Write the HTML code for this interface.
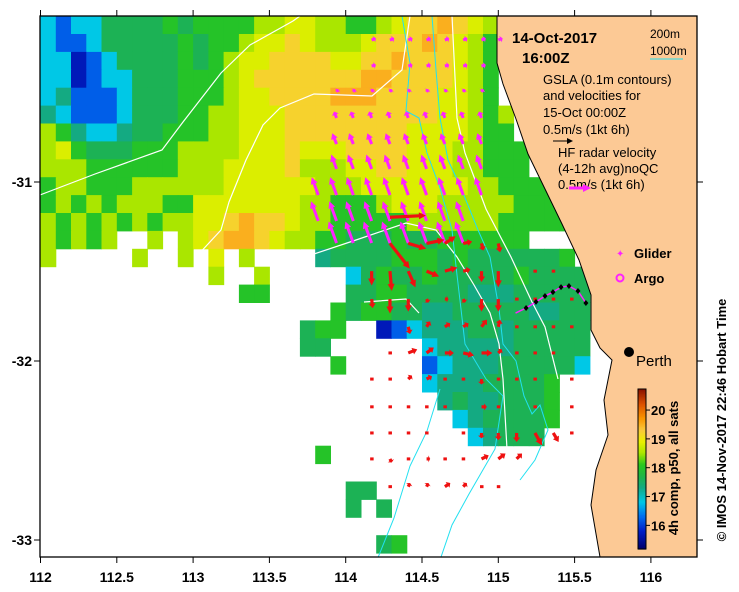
<!DOCTYPE html>
<html><head><meta charset="utf-8"><style>
html,body{margin:0;padding:0;background:#fff;}
svg{display:block;font-family:"Liberation Sans",sans-serif;}
</style></head><body>
<svg id="chart" width="739" height="592" viewBox="0 0 739 592">
<defs><clipPath id="plotclip"><rect x="40" y="16" width="657" height="541"/></clipPath></defs>
<g id="cells" clip-path="url(#plotclip)"></g>
<g id="contours" clip-path="url(#plotclip)"></g>
<g id="land" clip-path="url(#plotclip)"></g>
<g id="arrows" clip-path="url(#plotclip)"></g>
<g id="overlay"></g>
<g id="axes"></g>
</svg>
<script>
const sstCodes = "abcdefghij";
const sstVals = [15.7,16.2,16.8,17.3,17.6,18.0,18.5,18.8,19.2,19.5];
const sstRows = [
"cbcceeeefeffffgghhggffghiijihgg",
"cbbceeeeefeffghhihggghiiijihgf",
"ccabceeeefefghhiiiihhiijiiihgf",
"ccabcceeefffghiiiiiiijjiiiihgf",
"cdbbbceeefffghhiiiijjjiiiihhgf",
"dcbbbceeeffgghhhiiiiiiiiiihhgfg",
"gfdccdeefffgghhhiiiiiiiihhhhgff",
"ghfeeefffgggghhhihhhiiiihhhggfff",
"gggffffffggghhhhiggghhiihhhggfff",
"fggfffgggggghhhhhhggghhhhhhhggffff",
"fgfgfgggffhhhhhhhggfffghhhgggggffff",
"gfgfgfgfgghhijiihggfffffggggggfffff",
"gfgfg..g.ghijjihggffeeefeeffffff",
"g.....g..g.h.g....deeeefffefeeeeeef",
"...........g..g.....cefeefeeeeefeeee",
".............ff.....eeffeeeedddeeeee",
"...................feffeeddeeeeeddee",
".................eff..abcdddeedeeeee",
".................ee......cdddddeeeee",
"...................f.....bcdddeeeeec",
".........................cdddeeeef",
"..........................deddeeef",
"...........................cdeeeef",
"............................cdeee",
"..................f",
"",
"....................ee",
"....................e.e",
"",
"......................ef",
""
];
const lonTicks = [112,112.5,113,113.5,114,114.5,115,115.5,116];
const latTicks = [-31,-32,-33];
const cbTicks = [16,17,18,19,20];
const gridLon = [113.82,113.94,114.05,114.17,114.29,114.41,114.53,114.65,114.77,114.89,115.0,115.12,115.24,115.36,115.48];
const hfLat = [-30.207,-30.352,-30.497,-30.642,-30.788,-30.927,-31.073,-31.218,-31.341];
const hfU = [
[null,null,null,.12,.12,.12,.12,.12,.12,.12,.12],
[null,null,null,.12,null,.12,.12,.12,.12,.12,null],
[null,.05,.05,.05,.05,.05,.05,.05,.05,.05,null],
[null,-.07,-.07,-.07,-.07,-.07,-.07,-.07,-.07,-.07,null],
[null,-.12,-.12,-.12,-.12,-.12,-.12,-.12,-.12,-.12,null],
[null,-.15,-.15,-.15,-.15,-.15,-.15,-.15,-.15,-.15,null],
[-.18,-.18,-.18,-.18,-.18,-.18,-.18,-.18,-.18,-.18,null],
[-.2,-.2,-.2,-.2,-.2,-.2,-.2,-.2,-.2,null,null],
[null,-.22,-.22,-.22,-.22,-.22,-.22,-.22,-.22,null,null]
];
const hfV = [
[null,null,null,.05,.05,.05,.05,.05,.05,.05,.05],
[null,null,null,.03,null,.03,.03,.03,.03,.03,null],
[null,.08,.08,.08,.08,.08,.08,.08,.08,.08,null],
[null,.18,.18,.18,.18,.18,.18,.18,.18,.18,null],
[null,.3,.3,.3,.3,.3,.3,.3,.3,.3,null],
[null,.4,.4,.4,.4,.4,.4,.4,.4,.4,null],
[.5,.5,.5,.5,.5,.5,.5,.5,.5,.5,null],
[.55,.55,.55,.55,.55,.55,.55,.55,.55,null,null],
[null,.6,.6,.6,.6,.6,.6,.6,.6,null,null]
];
const redLat = [-31.197,-31.343,-31.498,-31.654,-31.809,-31.955,-32.101,-32.256,-32.402,-32.547,-32.702];
const redRow = [0,1,1,1,1,1,1,1,2,2,2,2,2,2,2,2,2,2,3,3,3,3,3,3,3,3,3,3,3,3,4,4,4,4,4,4,4,4,4,4,5,5,5,5,5,5,5,5,5,5,6,6,6,6,6,6,6,6,6,6,6,7,7,7,7,7,7,7,7,7,8,8,8,8,8,8,8,8,8,8,8,9,9,9,9,9,9,9,9,9,10,10,10,10,10,10,10];
const redCol = [4, 4,5,6,7,8,9,10, 3,4,5,6,7,8,9,10,12,13, 3,4,5,6,7,8,9,10,11,12,13,14, 5,6,7,8,9,10,11,12,13,14, 4,5,6,7,8,9,10,11,12,13, 3,4,5,6,7,8,9,10,11,12,14, 3,4,5,6,7,9,10,12,14, 3,4,5,6,8,9,10,11,12,13,14, 3,4,5,6,7,8,9,10,11, 4,5,6,7,8,9,10];
const redU = [1.0, .55,.5,.5,.3,.25,.05,.05, 0,.05,.2,.35,.35,.2,0,0,.05,.05, .03,0,0,.05,.1,.05,0,0,.05,.05,.05,.05, .05,.1,.15,.15,.15,.05,.05,.05,.05,.05, .05,.25,.2,.25,.3,.3,.1,.05,.05,.05, .05,.05,.1,.15,.05,.05,0,.05,.05,.05,.05, .05,.05,.05,.05,.05,.15,.05,.05,.05, .05,.05,.05,.05,.05,0,0,0,.2,.15,.05, .05,.05,.05,.1,.05,.05,.2,.2,.15, .05,.05,.05,.15,.1,.05,.05];
const redV = [.05, -.7,-.15,.1,.2,.05,-.2,-.25, -.4,-.55,-.45,-.15,.1,.05,-.3,-.45,0,0, -.25,-.4,-.35,-.1,0,-.1,-.35,-.35,0,0,0,0, -.2,.15,.1,.1,.2,.2,0,0,0,0, 0,.1,.15,0,-.07,0,.1,0,0,0, 0,0,.1,.08,0,0,-.15,0,0,0,0, 0,0,0,0,0,0,0,0,0, 0,0,0,0,0,-.15,-.2,-.25,-.35,-.25,0, 0,-.1,0,0,0,0,.1,.15,.15, 0,.1,.1,.1,.1,0,0];
const gliderLon = [115.113,115.182,115.247,115.306,115.358,115.411,115.463,115.522,115.574];
const gliderLat = [-31.732,-31.704,-31.670,-31.637,-31.615,-31.587,-31.581,-31.609,-31.676];

const NS="http://www.w3.org/2000/svg";
function xS(lon){return 40.5+152.6*(lon-112);}
function yS(lat){return 182+(-31-lat)*179;}
function mk(tag,attrs,parent){const e=document.createElementNS(NS,tag);for(const k in attrs)e.setAttribute(k,attrs[k]);parent.appendChild(e);return e;}
const stops=[[15.2,[0,0,110]],[15.8,[0,30,200]],[16.3,[0,110,240]],[16.8,[0,200,230]],[17.3,[20,170,130]],[17.7,[30,180,70]],[18.1,[40,200,30]],[18.5,[170,230,0]],[18.9,[235,240,0]],[19.3,[250,200,60]],[19.7,[250,150,0]],[20.2,[220,80,0]],[20.7,[140,20,0]]];
function cmap(t){if(t<=stops[0][0])return "rgb("+stops[0][1]+")";for(let i=1;i<stops.length;i++){if(t<=stops[i][0]){const a=stops[i-1],b=stops[i];const f=(t-a[0])/(b[0]-a[0]);const c=a[1].map((v,k)=>Math.round(v+(b[1][k]-v)*f));return "rgb("+c+")";}}return "rgb("+stops[stops.length-1][1]+")";}

const cells=document.getElementById('cells');
sstRows.forEach((row,j)=>{
  for(let i=0;i<43;i++){
    const ch=row[i]; if(!ch||ch==='.') continue;
    const idx=sstCodes.indexOf(ch); if(idx<0) continue;
    const lon=112+0.1*i, lat=-30.073-0.1*j;
    const x0=xS(lon), x1=xS(lon+0.1), y0=yS(lat), y1=yS(lat-0.1);
    const r=mk('rect',{x:x0.toFixed(1),y:y0.toFixed(1),width:(x1-x0+0.5).toFixed(1),height:(y1-y0+0.5).toFixed(1),fill:cmap(sstVals[idx])},cells);
    
    
  }
});

const cg=document.getElementById('contours');
const whiteLines=[
"40,195 95,174 162,150 183,122 221,73 250,45 293,21 300,16",
"196,257 221,230 229,202 246,160 263,125 280,108 314,94 372,96 402,70 410,16",
"452,16 457,118 465,153 486,209 511,257 532,302 545,327 558,379",
"305,257 356,240 406,223 436,230 457,257 474,285 490,313 499,344 503,379 507,449",
"364,302 406,299 419,313"];
const cyanLines=[
"402,16 410,63 406,111 419,118 427,153 440,188 452,230 457,275 461,309 465,344 486,379 503,396 495,449 469,494 452,525 440,560",
"432,16 436,70 440,118 448,160 461,188 478,230 490,257 499,309 503,344 516,361 524,396 532,414 540,405 548,430 535,460 520,480",
"440,389 427,431 410,466 394,518 377,560"];
whiteLines.forEach(p=>{const l=mk('polyline',{points:p,fill:'none',stroke:'#fff','stroke-width':1.2},cg);});
cyanLines.forEach(p=>{const l=mk('polyline',{points:p,fill:'none',stroke:'#22e0f0','stroke-width':1},cg);});

const lg=document.getElementById('land');
const coast="497,16 497,63 503,84 516,119 528,154 545,189 562,224 579,260 591,295 591,330 600,348 612,360 604,400 608,435 596,470 591,505 600,557";
const lp=mk('polygon',{points:coast+" 697,557 697,16",fill:'#fcc995',stroke:'#000','stroke-width':1},lg);



const ag=document.getElementById('arrows');
const SC=36;
function arrow(x,y,u,v,col,w){
  const dx=u*SC, dy=-v*SC; const L=Math.hypot(dx,dy);
  const g=mk('g',{},ag);
  if(L<2.5){mk('rect',{x:x-1.5,y:y-1.5,width:3.5,height:3,fill:col},g);return g;}
  const ux=dx/L, uy=dy/L; const hx=x+dx, hy=y+dy; const hl=Math.min(7,L*0.5);
  mk('line',{x1:x,y1:y,x2:hx-ux*hl*0.6,y2:hy-uy*hl*0.6,stroke:col,'stroke-width':w},g);
  mk('polygon',{points:`${hx},${hy} ${hx-ux*hl-uy*3.5},${hy-uy*hl+ux*3.5} ${hx-ux*hl+uy*3.5},${hy-uy*hl-ux*3.5}`,fill:col},g);
  return g;
}
hfU.forEach((row,r)=>row.forEach((u,k)=>{
  if(u===null) return;
  const a=arrow(xS(gridLon[k]),yS(hfLat[r]),u,hfV[r][k],'#ff22ff',3);
  
  
}));
redRow.forEach((r,n)=>{
  const a=arrow(xS(gridLon[redCol[n]]),yS(redLat[r]),redU[n],redV[n],'#ee1111',3.2);
  
  
});

const ov=document.getElementById('overlay');
const gl=mk('polyline',{points:gliderLon.map((l,i)=>xS(l)+','+yS(gliderLat[i])).join(' '),fill:'none',stroke:'#ff22ff','stroke-width':1.5},ov);


gliderLon.forEach((l,i)=>{ if(i<1) return;
  const x=xS(l),y=yS(gliderLat[i]);
  const d=mk('polygon',{points:`${x},${y-3} ${x+2.5},${y} ${x},${y+3} ${x-2.5},${y}`,fill:'#000'},ov);
  
  
});
function txt(x,y,s,opt,name){const t=mk('text',Object.assign({x:x,y:y,'font-size':13,fill:'#000'},opt||{}),ov);t.textContent=s;return t;}
txt(512,43,"14-Oct-2017",{'font-size':15,'font-weight':'bold'},'date-label');
txt(522,63,"16:00Z",{'font-size':15,'font-weight':'bold'},'time-label');
txt(650,38,"200m",{'font-size':12},'legend-200m');
txt(650,55,"1000m",{'font-size':12},'legend-1000m');
const cl=mk('line',{x1:650,y1:59,x2:683,y2:59,stroke:'#22e0f0','stroke-width':1},ov);
txt(543,84,"GSLA (0.1m contours)",{},'gsla-legend-line1');
txt(543,100,"and velocities for",{},'gsla-legend-line2');
txt(543,117,"15-Oct 00:00Z",{},'gsla-legend-line3');
txt(543,134,"0.5m/s (1kt 6h)",{},'gsla-legend-line4');
const ba=mk('g',{},ov);
mk('line',{x1:553,y1:141,x2:570,y2:141,stroke:'#000','stroke-width':1},ba);
mk('polygon',{points:"573,141 567,138 567,144",fill:'#000'},ba);
txt(558,157,"HF radar velocity",{},'hf-legend-line1');
txt(558,173,"(4-12h avg)noQC",{},'hf-legend-line2');
txt(558,189,"0.5m/s (1kt 6h)",{},'hf-legend-line3');
const ma=mk('g',{},ov);
mk('line',{x1:569,y1:188,x2:585,y2:188,stroke:'#ff22ff','stroke-width':3},ma);
mk('polygon',{points:"591,188 583,184 583,192",fill:'#ff22ff'},ma);
const gm=mk('text',{x:616,y:257,'font-size':10,fill:'#ff22ff'},ov);gm.textContent="✦";
txt(634,258,"Glider",{'font-weight':'bold','font-size':13},'glider-legend');
const am=mk('circle',{cx:620,cy:278,r:3.5,fill:'none',stroke:'#ff22ff','stroke-width':2},ov);
txt(634,283,"Argo",{'font-weight':'bold','font-size':13},'argo-legend');
const pd=mk('circle',{cx:629,cy:352,r:5,fill:'#000'},ov);
txt(636,366,"Perth",{'font-size':15},'perth-label');

const cb=mk('g',{},ov);
const cbTop=389, cbBot=549, tMax=20.73, tMin=15.18;
function cbY(t){return cbTop+(tMax-t)/(tMax-tMin)*(cbBot-cbTop);}
for(let t=tMin;t<tMax;t+=0.05){mk('rect',{x:638,y:cbY(t+0.05),width:8,height:(cbY(t)-cbY(t+0.05)+0.6),fill:cmap(t)},cb);}
mk('rect',{x:638,y:cbTop,width:8,height:cbBot-cbTop,fill:'none',stroke:'#000','stroke-width':1},cb);
cbTicks.forEach(t=>{const y=cbY(t);mk('line',{x1:646,y1:y,x2:650,y2:y,stroke:'#000'},cb);const l=mk('text',{x:651,y:y+5,'font-size':13,'font-weight':'bold'},cb);l.textContent=t;});
const cbt=mk('text',{x:0,y:0,'font-size':13,'font-weight':'bold',transform:'translate(678,468) rotate(-90)','text-anchor':'middle'},ov);cbt.textContent="4h comp, p50, all sats";
const cr=mk('text',{x:0,y:0,'font-size':13,'font-weight':'bold',transform:'translate(726,420) rotate(-90)','text-anchor':'middle'},ov);cr.textContent="©  IMOS 14-Nov-2017 22:46 Hobart Time";

const ax=document.getElementById('axes');
const fr=mk('rect',{x:40,y:16,width:657,height:541,fill:'none',stroke:'#000','stroke-width':1.3},ax);
lonTicks.forEach(l=>{const x=xS(l);
  mk('line',{x1:x,y1:557,x2:x,y2:563,stroke:'#000'},ax);
  mk('line',{x1:x,y1:16,x2:x,y2:10,stroke:'#000'},ax);
  const t=mk('text',{x:x,y:582,'font-size':14,'font-weight':'bold','text-anchor':'middle'},ax);t.textContent=l;
  });
latTicks.forEach(l=>{const y=yS(l);
  mk('line',{x1:34,y1:y,x2:40,y2:y,stroke:'#000'},ax);
  mk('line',{x1:697,y1:y,x2:703,y2:y,stroke:'#000'},ax);
  const t=mk('text',{x:32,y:y+5,'font-size':14,'font-weight':'bold','text-anchor':'end'},ax);t.textContent=l;
  });
</script>
</body></html>
